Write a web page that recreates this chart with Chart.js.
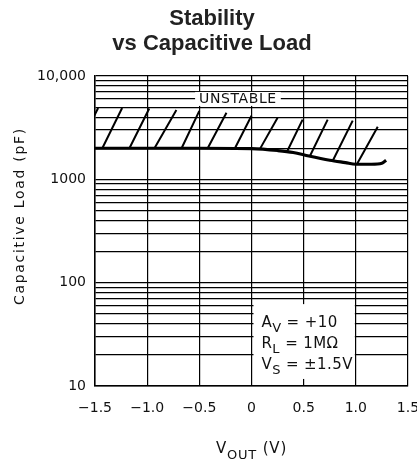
<!DOCTYPE html>
<html>
<head>
<meta charset="utf-8">
<script src="https://cdn.jsdelivr.net/npm/chart.js@4/dist/chart.umd.min.js"></script>
<style>
  html, body { margin: 0; padding: 0; background: #fff; }
  canvas { display: block; }
</style>
</head>
<body>
<canvas id="stabChart" width="417" height="461"></canvas>
<script>
// stability boundary
const voltage = [-1.5, -1.0, -0.5, 0, 0.25, 0.4, 0.55, 0.75, 0.9, 1.0, 1.15, 1.25, 1.29];
const capLoad = [2000, 2000, 2000, 1980, 1900, 1820, 1680, 1530, 1450, 1400, 1400, 1430, 1530];

// hatch strokes above the boundary (foot on the curve, head up-right)
const hatchLowV  = [-1.66, -1.43, -1.17, -0.93, -0.67, -0.42, -0.16, 0.08, 0.34, 0.56, 0.78, 1.01];
const hatchLowC  = [2000, 2000, 2000, 2000, 2000, 2000, 1990, 1960, 1850, 1680, 1520, 1400];
const hatchHighV = [-1.47, -1.24, -0.98, -0.72, -0.50, -0.24, 0.00, 0.25, 0.49, 0.73, 0.97, 1.21];
const hatchHighC = [4900, 4900, 4850, 4700, 4600, 4400, 4120, 3950, 3780, 3780, 3700, 3230];

const xTickVals = [-1.5, -1.0, -0.5, 0, 0.5, 1.0, 1.5];
const xTickLabels = ['\u22121.5', '\u22121.0', '\u22120.5', '0', '0.5', '1.0', '1.5'];
const yTickVals = [10, 100, 1000, 10000];
const yTickLabels = ['10', '100', '1000', '10,000'];

const FONT = '"DejaVu Sans", sans-serif';

// hatch strokes as one dataset, broken by gaps
const hatchPts = [];
hatchLowV.forEach((v, i) => {
  hatchPts.push({ x: v, y: hatchLowC[i] });
  hatchPts.push({ x: hatchHighV[i], y: hatchHighC[i] });
  hatchPts.push({ x: v, y: null });
});

// log grid: 1..9 in every decade
const yGrid = [];
for (let d = 10; d < 10000; d *= 10) {
  for (let k = 1; k < 10; k++) yGrid.push(k * d);
}
yGrid.push(10000);

function drawParts(ctx, x, y, parts, size, spacing, subSize, subDrop) {
  ctx.letterSpacing = spacing + 'px';
  parts.forEach(p => {
    ctx.font = (p.sub ? subSize : size) + 'px ' + FONT;
    ctx.fillText(p.t, x, y + (p.sub ? subDrop : 0));
    x += ctx.measureText(p.t).width;
  });
  ctx.letterSpacing = '0px';
}

function partsWidth(ctx, parts, size, spacing, subSize) {
  ctx.letterSpacing = spacing + 'px';
  let w = 0;
  parts.forEach(p => {
    ctx.font = (p.sub ? subSize : size) + 'px ' + FONT;
    w += ctx.measureText(p.t).width;
  });
  ctx.letterSpacing = '0px';
  return w;
}

const labels = {
  id: 'labels',
  beforeDatasetsDraw(chart) {
    const ctx = chart.ctx;
    const x = chart.scales.x, y = chart.scales.y;
    ctx.save();

    // UNSTABLE tag
    const ux = x.getPixelForValue(-0.13);
    const uy = y.getPixelForValue(6000);
    ctx.font = '14px ' + FONT;
    ctx.letterSpacing = '0.6px';
    const uw = ctx.measureText('UNSTABLE').width;
    ctx.fillStyle = '#fff';
    ctx.fillRect(ux - uw / 2 - 4, uy - 7, uw + 8, 14);
    ctx.fillStyle = '#111';
    ctx.textAlign = 'center';
    ctx.textBaseline = 'middle';
    ctx.fillText('UNSTABLE', ux, uy);
    ctx.letterSpacing = '0px';

    // conditions box
    const bx = x.getPixelForValue(0) + 2;
    const bw = x.getPixelForValue(1.0) - bx - 1;
    const by = y.getPixelForValue(62);
    const bb = y.getPixelForValue(11.7);
    ctx.fillStyle = '#fff';
    ctx.fillRect(bx, by, bw, bb - by);
    ctx.fillStyle = '#111';
    ctx.textAlign = 'left';
    ctx.textBaseline = 'alphabetic';
    const lines = [
      [{ t: 'A' }, { t: 'V', sub: true }, { t: ' = +10' }],
      [{ t: 'R' }, { t: 'L', sub: true }, { t: ' = 1M\u03A9' }],
      [{ t: 'V' }, { t: 'S', sub: true }, { t: ' = \u00B11.5V' }]
    ];
    lines.forEach((ln, i) => drawParts(ctx, bx + 8, by + 23 + i * 21, ln, 15, 0.4, 13, 5));
    ctx.restore();
  },
  afterDraw(chart) {
    const ctx = chart.ctx;
    const area = chart.chartArea;
    ctx.save();
    ctx.fillStyle = '#222';
    ctx.textAlign = 'center';
    ctx.textBaseline = 'alphabetic';
    ctx.font = 'bold 22px "Liberation Sans", Arial, sans-serif';
    ctx.fillText('Stability', 212, 25);
    ctx.fillText('vs Capacitive Load', 212, 50);

    // y title
    ctx.fillStyle = '#111';
    ctx.textBaseline = 'middle';
    ctx.save();
    ctx.translate(20, 216);
    ctx.rotate(-Math.PI / 2);
    ctx.font = '14px ' + FONT;
    ctx.letterSpacing = '1.7px';
    ctx.fillText('Capacitive Load (pF)', 0, 0);
    ctx.restore();

    // x title
    const xt = [{ t: 'V' }, { t: 'OUT', sub: true }, { t: ' (V)' }];
    ctx.textAlign = 'left';
    ctx.textBaseline = 'alphabetic';
    const w = partsWidth(ctx, xt, 15, 0.8, 13);
    drawParts(ctx, (area.left + area.right) / 2 - w / 2, 453, xt, 15, 0.8, 13, 6);
    ctx.restore();
  }
};

new Chart(document.getElementById('stabChart'), {
  type: 'line',
  data: {
    datasets: [{
      data: voltage.map((v, i) => ({ x: v, y: capLoad[i] })),
      borderColor: '#000',
      borderWidth: 3.2,
      pointRadius: 0,
      cubicInterpolationMode: 'monotone',
      fill: false
    }, {
      data: hatchPts,
      borderColor: '#000',
      borderWidth: 2,
      pointRadius: 0,
      spanGaps: false,
      fill: false
    }]
  },
  options: {
    responsive: false,
    animation: false,
    devicePixelRatio: 1,
    layout: { padding: { top: 76, right: 9, left: 0, bottom: 0 } },
    plugins: { legend: { display: false }, tooltip: { enabled: false } },
    scales: {
      x: {
        type: 'linear',
        min: -1.5,
        max: 1.5,
        afterBuildTicks: s => { s.ticks = xTickVals.map(v => ({ value: v })); },
        afterFit: s => { s.height = 75; s.paddingLeft = 0; s.paddingRight = 0; },
        grid: { color: '#000', lineWidth: 1.2, drawTicks: false },
        border: { color: '#000', width: 1.5 },
        ticks: {
          padding: 14,
          color: '#111',
          font: { family: FONT, size: 14 },
          autoSkip: false,
          maxRotation: 0,
          callback: v => {
            const i = xTickVals.findIndex(t => Math.abs(t - v) < 1e-6);
            return i < 0 ? '' : xTickLabels[i];
          }
        }
      },
      y: {
        type: 'logarithmic',
        min: 10,
        max: 10000,
        afterBuildTicks: s => { s.ticks = yGrid.map(v => ({ value: v })); },
        afterFit: s => { s.width = 95; s.paddingTop = 0; s.paddingBottom = 0; },
        grid: { color: '#000', lineWidth: 1.2, drawTicks: false },
        border: { color: '#000', width: 1.5 },
        ticks: {
          padding: 9,
          color: '#111',
          font: { family: FONT, size: 14 },
          autoSkip: false,
          callback: v => {
            const i = yTickVals.indexOf(v);
            return i < 0 ? '' : yTickLabels[i];
          }
        }
      }
    }
  },
  plugins: [labels]
});
</script>
</body>
</html>
